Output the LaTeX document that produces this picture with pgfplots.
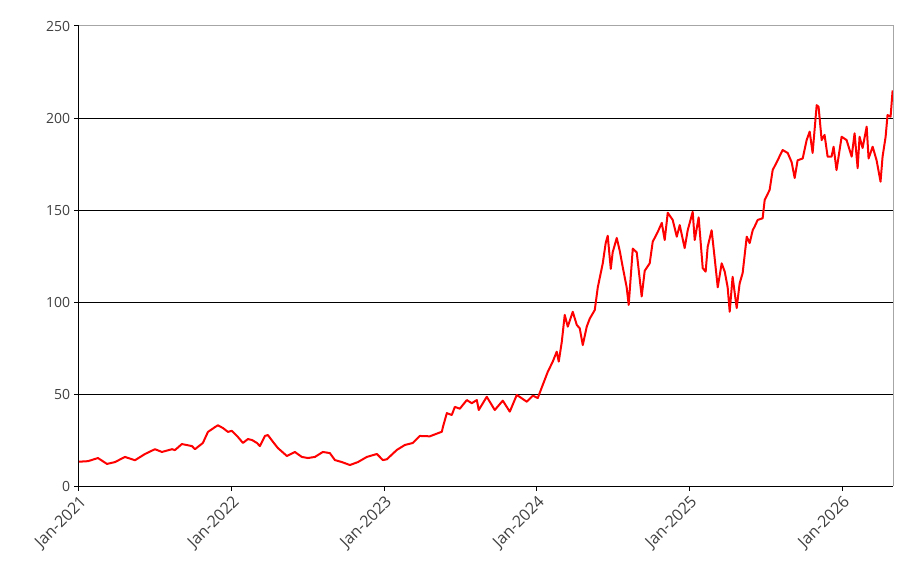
\documentclass[border=0pt]{standalone}
\usepackage{fontspec}
\setmainfont{Open Sans}
\usepackage{pgfplots}
\pgfplotsset{compat=1.18}
\usetikzlibrary{calc}
\definecolor{lbl}{HTML}{404040}
\definecolor{frame}{HTML}{A6A6A6}
\begin{document}
\begin{tikzpicture}
\begin{axis}[
  scale only axis,
  width=610.5pt, height=345pt,
  xmin=0, xmax=64, ymin=0, ymax=250,
  xtick={0,12,24,36,48,60},
  xticklabels={Jan-2021,Jan-2022,Jan-2023,Jan-2024,Jan-2025,Jan-2026},
  ytick={0,50,100,150,200,250},
  axis lines*=left,
  axis line style={-, black, line width=0.75pt},
  tick align=outside,
  major tick length=3.5pt,
  tick style={black, line width=0.75pt},
  ymajorgrids,
  grid style={black, line width=0.75pt},
  /pgf/number format/assume math mode=true,
  yticklabel style={font=\fontsize{10.5}{12}\selectfont, text=lbl, inner sep=3pt},
  xticklabel style={font=\fontsize{12}{14}\selectfont, text=lbl, rotate=45, anchor=north east, inner sep=2pt},
  clip=false,
]
\addplot[red, line width=1.5pt, line join=round] coordinates {
(0,13.2) (0.71,13.5) (1.49,15.2) (2.20,12) (2.83,13) (3.61,15.8) (4.40,14)
(5.19,17.4) (5.97,20) (6.52,18.5) (7.31,20) (7.54,19.5) (8.09,22.8) (8.88,21.7)
(9.12,20) (9.74,23.4) (10.14,29.4) (10.69,32) (10.92,33) (11.32,31.5) (11.71,29.4)
(12.02,30) (12.50,26.6) (12.89,23.4) (13.28,25.5) (13.60,25) (13.99,23.4) (14.22,21.7)
(14.62,27.2) (14.85,27.7) (15.25,24) (15.64,20.6) (16.35,16.3) (16.97,18.5) (17.52,15.8)
(18.00,15.2) (18.55,15.8) (19.17,18.5) (19.72,17.9) (20.12,14.1) (20.67,13) (21.30,11.4)
(21.93,13) (22.63,15.8) (23.42,17.4) (23.89,14.1) (24.20,14.5) (24.99,19.6) (25.62,22.3)
(26.25,23.4) (26.80,27.2) (27.58,27) (28.53,29.5) (28.61,32) (28.92,39.6) (29.31,38.6)
(29.55,43) (29.94,42) (30.49,46.7) (30.88,45) (31.28,46.7) (31.43,41.3) (32.06,48.5)
(32.69,41.3) (33.32,46.4) (33.87,40.4) (34.42,49.5) (35.21,45.8) (35.68,49.1) (36.07,47.8)
(36.46,54.9) (36.86,62.1) (37.25,67.6) (37.56,73) (37.72,67.6) (37.96,78.4) (38.19,93)
(38.43,86.6) (38.82,94.7) (39.14,87.5) (39.37,85.7) (39.61,76.6) (39.92,86.6) (40.16,91)
(40.55,95.6) (40.79,108) (41.18,121) (41.41,132) (41.57,136) (41.81,118) (41.96,127)
(42.28,134.8) (42.51,128) (42.75,119) (43.06,108) (43.22,98.4) (43.54,129) (43.85,127)
(44.24,103) (44.48,117) (44.87,121) (45.11,132.8) (45.50,138) (45.82,143) (46.05,133.7)
(46.29,148.5) (46.68,144.6) (47.00,135.5) (47.23,141.8) (47.62,129.3) (47.86,139) (48.25,149)
(48.41,133.7) (48.72,146) (49.04,118.4) (49.27,116.5) (49.43,130) (49.74,139) (49.98,123.8)
(50.22,108) (50.53,121) (50.77,116.5) (51.00,108) (51.16,94.7) (51.39,113.7) (51.71,96.7)
(51.94,110) (52.18,115.8) (52.50,135.5) (52.73,132) (52.97,139) (53.12,141) (53.36,144.6)
(53.75,145.5) (53.91,155.4) (54.30,160.9) (54.54,171.7) (54.93,177) (55.32,182.6) (55.72,181)
(56.03,176) (56.27,167.4) (56.50,177) (56.90,178) (57.21,188) (57.45,192.6) (57.68,181)
(58.00,207) (58.15,206) (58.39,188) (58.62,190.8) (58.86,179) (59.17,179) (59.33,184.4)
(59.56,171.7) (59.96,189.8) (60.35,188) (60.75,179) (60.98,191.7) (61.22,172.7) (61.37,189.8)
(61.61,183.7) (61.93,195.3) (62.08,178) (62.40,184.4) (62.71,177) (63.02,165.4) (63.18,179)
(63.42,189.8) (63.57,201.6) (63.81,200.7) (63.97,215)
};
\draw[frame, line width=0.75pt] (rel axis cs:0,1) -- (rel axis cs:1,1) -- (rel axis cs:1,0);
\end{axis}
\pgfresetboundingbox
\path ($(current axis.south west)+(-59.25pt,-61.5pt)$) rectangle ($(current axis.north east)+(10.5pt,19.5pt)$);
\end{tikzpicture}
\end{document}
